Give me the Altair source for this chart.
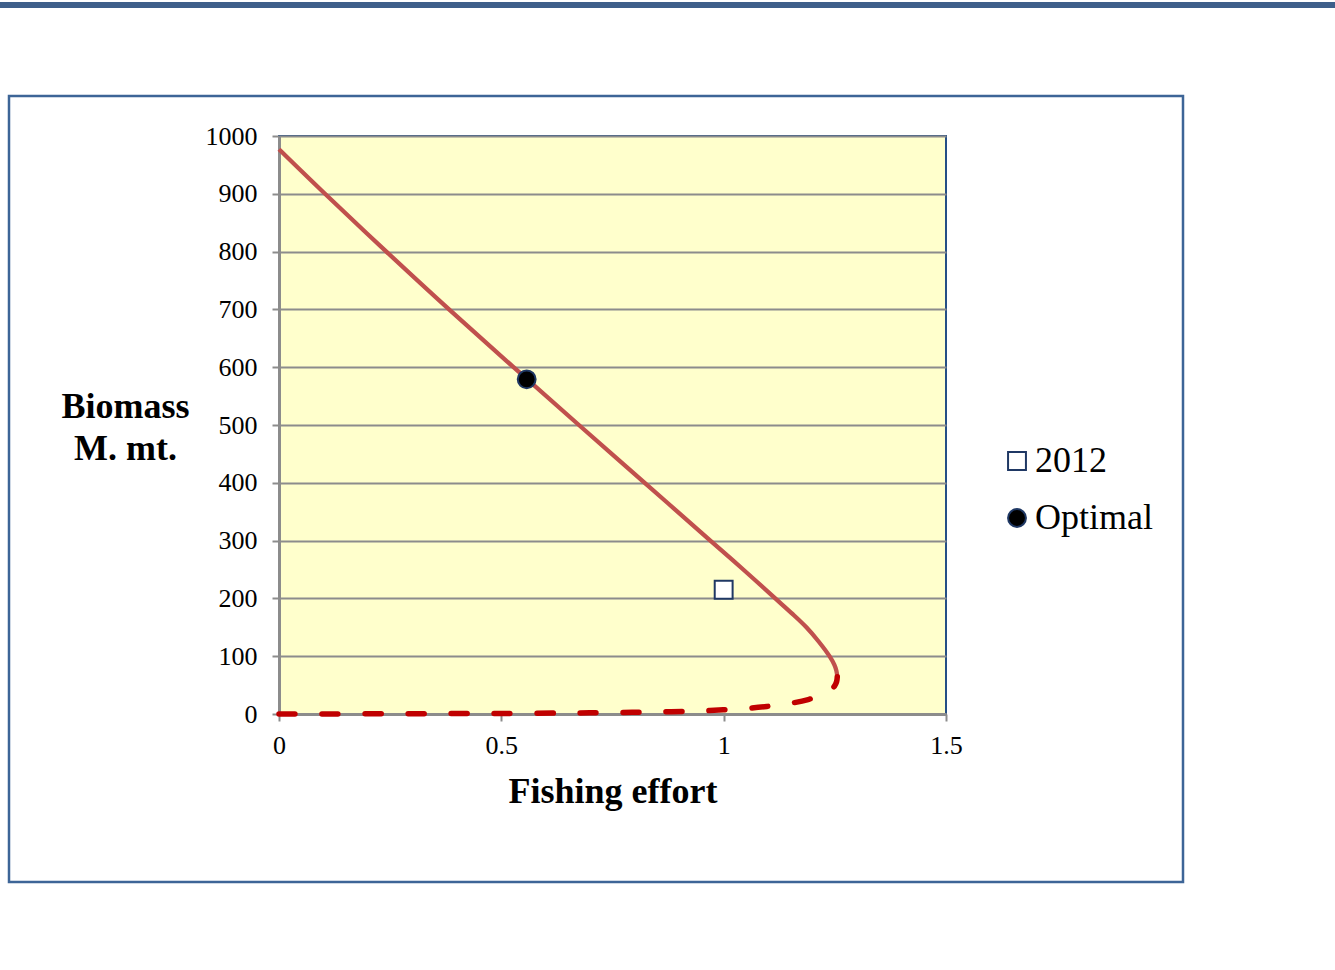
import altair as alt
import pandas as pd

# Stable (upper) equilibrium branch: fishing effort vs biomass
stable_effort = [0.0, 0.1034, 0.2414, 0.3824, 0.5274, 0.6744, 0.8224, 0.970,
                 1.044, 1.116, 1.152, 1.186, 1.214, 1.238, 1.249, 1.2535, 1.2555]
stable_biomass = [977, 900, 800, 700, 600, 500, 400, 300,
                  250, 200, 175, 150, 125, 100, 85, 75, 64.5]

# Unstable (lower) branch, drawn dashed
unstable_effort = [0.0, 0.3, 0.5, 0.666, 0.714, 0.763, 0.81, 0.857, 0.909, 0.954,
                   0.999, 1.052, 1.097, 1.145, 1.19, 1.22, 1.239, 1.249, 1.254, 1.2555]
unstable_biomass = [0.0, 0.5, 1.0, 1.8, 2.1, 2.5, 3.0, 3.6, 4.4, 5.6,
                    7.2, 9.8, 13.0, 17.8, 25.0, 33.0, 41.0, 48.0, 56.0, 64.5]

# Observed and optimal states
point_labels = ["2012", "Optimal"]
point_effort = [1.0, 0.557]
point_biomass = [215, 579]

x_ticks = [0, 0.5, 1, 1.5]
y_ticks = list(range(0, 1001, 100))

FONT = "Liberation Serif"
GRID = "#8C8C8C"
NAVY = "#1F3864"

stable = pd.DataFrame({"E": stable_effort, "B": stable_biomass,
                       "i": range(len(stable_effort))})
unstable = pd.DataFrame({"E": unstable_effort, "B": unstable_biomass,
                         "i": range(len(unstable_effort))})
points = pd.DataFrame({"series": point_labels, "E": point_effort, "B": point_biomass})

x_enc = alt.X("E:Q",
              scale=alt.Scale(domain=[0, 1.5], nice=False),
              axis=alt.Axis(values=x_ticks, format="~g", grid=False, labelFlush=False,
                            title="Fishing effort", titleFontWeight="bold",
                            titleFontSize=36, titleFont=FONT, titleColor="black",
                            titleBaseline="alphabetic", titleY=88,
                            labelPadding=11))
y_enc = alt.Y("B:Q",
              scale=alt.Scale(domain=[0, 1000], nice=False),
              axis=alt.Axis(values=y_ticks, format="d", grid=True, labelFlush=False,
                            title=["Biomass", "M. mt."], titleFontWeight="bold",
                            titleFontSize=36, titleFont=FONT, titleColor="black",
                            titleAngle=0, titleAlign="center", titleBaseline="middle",
                            titleX=-154, titleY=270, titleLineHeight=42,
                            labelPadding=15))

solid_line = alt.Chart(stable).mark_line(
    color="#C0504D", strokeWidth=4.3, interpolate="catmull-rom"
).encode(x=x_enc, y=y_enc, order="i:O")

dashed_line = alt.Chart(unstable).mark_line(
    color="#C00000", strokeWidth=5.5, strokeDash=[16, 27], strokeCap="round",
    interpolate="catmull-rom"
).encode(x=x_enc, y=y_enc, order="i:O")

legend = alt.Legend(title=None, orient="none", legendX=720, legendY=307,
                    labelFont=FONT, labelFontSize=36, labelColor="black",
                    symbolSize=320, symbolStrokeWidth=2, labelOffset=0,
                    rowPadding=21, padding=0)

markers = alt.Chart(points).mark_point(
    filled=True, size=320, strokeWidth=2, opacity=1
).encode(
    x=x_enc, y=y_enc,
    shape=alt.Shape("series:N",
                    scale=alt.Scale(domain=point_labels, range=["square", "circle"]),
                    legend=legend),
    fill=alt.Fill("series:N",
                  scale=alt.Scale(domain=point_labels, range=["white", "black"]),
                  legend=legend),
    stroke=alt.Stroke("series:N",
                      scale=alt.Scale(domain=point_labels, range=[NAVY, NAVY]),
                      legend=legend),
)

one = alt.Data(values=[{}])

# Outer frame around the chart and the slide's top band
frame = alt.Chart(one).mark_rect(
    fillOpacity=0, stroke="#3D6597", strokeWidth=2.5
).encode(x=alt.value(-270), x2=alt.value(904), y=alt.value(-40), y2=alt.value(746))

band = alt.Chart(one).mark_rect(color="#3E5F8A").encode(
    x=alt.value(-279), x2=alt.value(1056), y=alt.value(-134), y2=alt.value(-128))

chart = alt.layer(band, frame, solid_line, dashed_line, markers).properties(
    width=667, height=578,
    autosize=alt.AutoSizeParams(type="none"),
    padding={"left": 279, "top": 136, "right": 389, "bottom": 256},
    background="white",
).configure_view(
    fill="#FFFFCC", stroke="#254F86", strokeWidth=2
).configure_axis(
    labelFont=FONT, labelFontSize=26, labelColor="black",
    domainColor=GRID, domainWidth=3, tickColor=GRID, tickWidth=2, tickSize=7,
    gridColor=GRID, gridWidth=2, gridOpacity=1,
)

chart.save("out.html", embed_options={"renderer": "svg", "actions": False})
